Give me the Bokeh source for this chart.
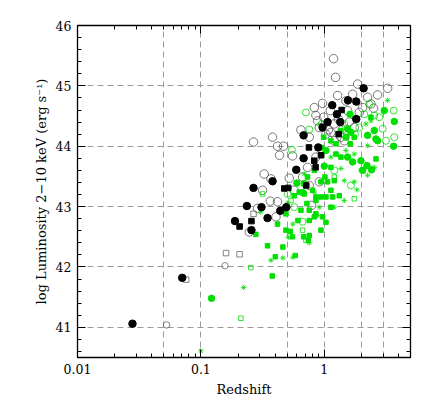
from bokeh.plotting import figure
from bokeh.models import FixedTicker, LogAxis, LinearAxis, Range1d
from bokeh.embed import file_html
from bokeh.resources import INLINE

# ---- data (redshift, log L 2-10 keV) ----
bf_z = [0.0279, 0.0706, 0.189, 0.236, 0.257, 0.267, 0.310, 0.347, 0.381, 0.440, 0.492, 0.593,
        0.680, 0.680, 0.894, 0.969, 1.064, 1.161, 1.267, 1.348, 1.556, 1.817, 1.817, 2.084]
bf_L = [41.06, 41.82, 42.76, 43.01, 42.61, 43.31, 42.99, 42.81, 43.42, 42.93, 42.99, 43.61,
        43.80, 44.18, 43.98, 44.31, 44.40, 44.68, 44.53, 44.40, 44.76, 44.74, 44.45, 44.96]

bs_z = [0.206, 0.257, 0.474, 0.511, 0.715, 0.751, 0.830, 0.851, 0.940, 1.307, 1.382]
bs_L = [42.67, 42.76, 43.30, 43.31, 43.35, 43.98, 43.76, 43.65, 43.85, 44.20, 44.60]

gs_z = [0.0760, 0.160, 0.206, 0.267]
gs_L = [41.79, 42.23, 42.21, 42.88]

gp_z = [0.0527, 0.1566]
gp_L = [41.04, 42.02]

bo_z = [0.267, 0.381, 0.418, 0.468, 0.434, 0.553, 0.520, 1.190, 1.235, 1.863, 3.262, 2.706,
        2.245, 2.389, 0.647, 0.830, 0.969, 1.119, 1.283, 0.326, 0.370, 0.316, 0.365, 0.418,
        0.406, 0.247, 0.288, 0.732, 0.667, 0.571, 0.883, 1.032, 1.365, 1.546, 1.698, 2.046,
        1.452, 1.751, 1.205, 0.856, 0.911, 0.756, 0.789, 0.856, 0.756, 1.132, 1.595, 1.921,
        1.499, 2.512, 0.911, 1.205, 1.080, 1.400, 0.990, 1.300]
bo_L = [44.07, 44.15, 44.00, 44.00, 43.85, 43.84, 43.47, 45.45, 45.14, 45.03, 44.96, 44.85,
        44.81, 44.70, 44.27, 44.64, 44.71, 44.59, 44.84, 43.54, 43.46, 43.27, 43.09, 43.08,
        42.83, 42.58, 42.97, 43.65, 43.49, 43.27, 44.42, 44.20, 44.15, 44.59, 44.86, 44.64,
        44.09, 44.31, 44.09, 43.82, 43.41, 43.35, 43.02, 44.51, 44.15, 44.23, 44.40, 44.56,
        44.75, 44.63, 44.31, 44.37, 44.27, 44.28, 44.48, 44.45]

gfc_z = [0.122, 0.600, 0.689, 0.671, 1.0, 1.032, 1.546, 1.698, 1.983, 2.046, 2.419, 2.218,
         1.645, 1.615, 2.245, 2.543, 2.624, 3.065, 3.695, 3.650, 1.546, 1.499, 2.706]
gfc_L = [41.48, 43.39, 43.38, 43.23, 43.67, 43.93, 43.82, 43.74, 43.76, 43.60, 43.61, 43.68,
         44.23, 44.53, 44.18, 44.26, 44.12, 44.59, 44.41, 44.00, 44.29, 44.15, 44.09]

gsq_z = [0.379, 0.279, 0.347, 0.401, 0.462, 0.582, 0.418, 0.489, 0.553, 0.530, 0.612, 0.680,
         0.756, 0.742, 0.756, 0.830, 0.940, 0.969, 1.032, 0.856, 0.804, 0.856, 0.940, 1.032,
         1.132, 1.169, 1.323, 1.205, 1.064, 1.012, 0.940, 1.365, 1.244, 1.132, 0.952, 0.988,
         1.132, 1.244, 1.365, 1.625, 2.389, 2.624, 1.751, 0.830, 0.689, 0.723, 0.756, 1.132,
         0.647, 0.627, 0.489, 0.856, 0.571, 0.732]
gsq_L = [41.85, 42.54, 42.35, 42.17, 42.33, 42.19, 42.71, 42.61, 42.50, 42.59, 42.77, 42.50,
         42.52, 42.44, 42.77, 42.83, 42.61, 42.83, 42.74, 43.10, 43.27, 43.16, 43.16, 43.16,
         43.27, 43.16, 43.18, 43.43, 43.41, 43.49, 43.41, 43.82, 43.87, 43.65, 43.98, 44.15,
         44.09, 44.04, 44.26, 44.04, 44.48, 43.79, 44.15, 43.60, 43.21, 43.05, 42.94, 42.99,
         42.94, 43.24, 42.88, 42.88, 43.18, 43.49]

goc_z = [0.547, 0.710, 0.756, 0.952, 1.452, 1.774, 1.921, 2.792, 2.971, 3.650, 3.695, 3.162,
         1.645, 1.205, 2.316, 2.111, 2.543, 0.571, 0.667, 0.505]
goc_L = [43.94, 44.56, 44.28, 44.37, 44.37, 44.20, 44.31, 44.48, 44.29, 44.59, 44.15, 44.09,
         43.35, 43.60, 44.70, 44.53, 44.51, 42.99, 42.75, 43.21]

gos_z = [0.211, 0.254, 0.316, 0.667, 0.537, 0.710, 1.205, 1.751]
gos_L = [41.15, 41.99, 43.21, 42.61, 43.10, 42.44, 43.49, 43.13]

ga_z = [0.100, 0.222, 0.370, 0.462, 0.557, 0.511, 0.557, 0.505, 0.756, 0.830, 0.911, 1.205,
        1.452, 1.452, 1.365, 1.499, 1.751, 1.983, 1.751, 1.840, 2.245, 2.543, 3.262, 2.245,
        2.177, 2.389, 1.132, 0.689, 0.883, 0.306]
ga_L = [40.61, 41.66, 42.11, 42.15, 42.16, 42.49, 42.71, 43.06, 42.40, 43.24, 42.99, 42.99,
        43.10, 43.43, 43.63, 43.93, 43.87, 43.60, 43.41, 43.28, 43.52, 43.65, 44.76, 44.01,
        44.37, 44.42, 43.82, 43.54, 42.85, 42.91]

x_major = [0.01, 0.1, 1]
x_labels = {0.01: "0.01", 0.1: "0.1", 1: "1"}
x_grid = [0.05, 0.1, 0.5, 1, 2, 3]
y_grid = [41, 42, 43, 44, 45]

FONT = "DejaVu Serif"
GREEN = "#00e000"

p = figure(width=420, height=402, x_axis_type="log",
           x_range=Range1d(0.01, 5), y_range=Range1d(40.5, 46),
           output_backend="svg", toolbar_location=None,
           min_border_left=77, min_border_right=10, min_border_top=25, min_border_bottom=45)
p.background_fill_color = "white"
p.border_fill_color = "white"
p.outline_line_color = "black"
p.outline_line_width = 1.3

minor_x = [m * 10.0 ** e for e in (-2, -1, 0) for m in range(2, 10) if m * 10.0 ** e < 5]
minor_y = [40.6 + 0.2 * i for i in range(28)]

xt = FixedTicker(ticks=x_major, minor_ticks=minor_x)
yt = FixedTicker(ticks=[41, 42, 43, 44, 45, 46], minor_ticks=minor_y)

for ax in (p.xaxis[0], p.yaxis[0]):
    ax.major_tick_in = 8
    ax.major_tick_out = 0
    ax.minor_tick_in = 4
    ax.minor_tick_out = 0
    ax.axis_line_color = None
    ax.major_tick_line_color = "black"
    ax.minor_tick_line_color = "black"
    ax.major_label_text_font = FONT
    ax.major_label_text_font_size = "12.5px"
    ax.major_label_text_color = "black"
    ax.axis_label_text_font = FONT
    ax.axis_label_text_font_size = "13px"
    ax.axis_label_text_font_style = "normal"
    ax.axis_label_text_color = "black"

p.xaxis[0].ticker = xt
p.xaxis[0].major_label_overrides = x_labels
p.xaxis[0].axis_label = "Redshift"
p.xaxis[0].major_label_standoff = 6
p.xaxis[0].axis_label_standoff = 5
p.yaxis[0].ticker = yt
p.yaxis[0].axis_label = "log Luminosity 2\u221210 keV (erg s\u207b\u00b9)"
p.yaxis[0].major_label_standoff = 6
p.yaxis[0].axis_label_standoff = 4

top = LogAxis(ticker=FixedTicker(ticks=x_major, minor_ticks=minor_x))
right = LinearAxis(ticker=FixedTicker(ticks=[41, 42, 43, 44, 45, 46], minor_ticks=minor_y))
for ax in (top, right):
    ax.major_tick_in = 8
    ax.major_tick_out = 0
    ax.minor_tick_in = 4
    ax.minor_tick_out = 0
    ax.axis_line_color = None
    ax.major_label_text_font_size = "0px"
    ax.major_label_text_color = None
p.add_layout(top, "above")
p.add_layout(right, "right")

p.xgrid.ticker = FixedTicker(ticks=x_grid)
p.ygrid.ticker = FixedTicker(ticks=y_grid)
for g in (p.xgrid[0], p.ygrid[0]):
    g.grid_line_color = "#9a9a9a"
    g.grid_line_dash = "6 4"
    g.grid_line_width = 1

# markers
p.scatter(bo_z, bo_L, marker="circle", size=8.5, fill_color=None, line_color="#555555", line_width=0.8)
p.scatter(goc_z, goc_L, marker="circle", size=7, fill_color=None, line_color=GREEN, line_width=0.8)
p.scatter(gos_z, gos_L, marker="square", size=4.5, fill_color=None, line_color=GREEN, line_width=0.8)
p.scatter(gs_z, gs_L, marker="square", size=5.5, fill_color=None, line_color="#666666", line_width=0.8)
p.scatter(gp_z, gp_L, marker="circle", size=6.5, fill_color=None, line_color="#666666", line_width=0.8)
p.scatter(ga_z, ga_L, marker="asterisk", size=5.5, line_color=GREEN, line_width=0.8)
p.scatter(gsq_z, gsq_L, marker="square", size=4.5, fill_color=GREEN, line_color=GREEN)
p.scatter(gfc_z, gfc_L, marker="circle", size=6.5, fill_color=GREEN, line_color=GREEN)
p.scatter(bs_z, bs_L, marker="square", size=5.5, fill_color="black", line_color="black")
p.scatter(bf_z, bf_L, marker="circle", size=7.5, fill_color="black", line_color="black")

open("out.html", "w").write(file_html(p, INLINE))
